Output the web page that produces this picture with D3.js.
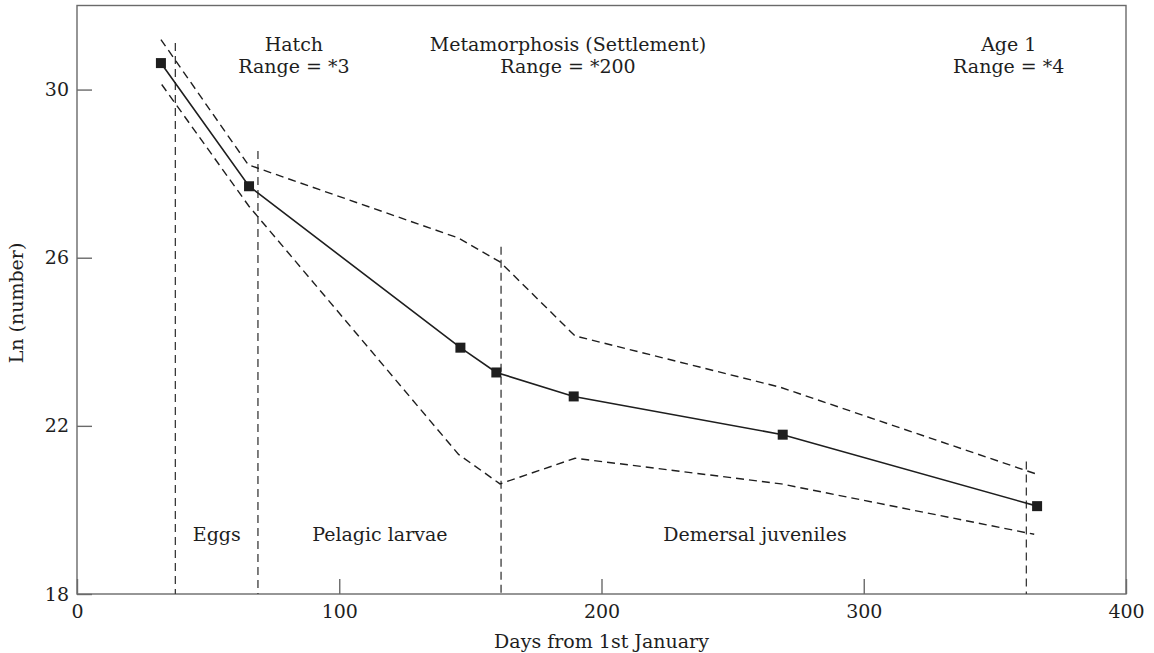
<!DOCTYPE html>
<html>
<head>
<meta charset="utf-8">
<script src="https://cdn.jsdelivr.net/npm/d3@7"></script>
<style>
  html, body { margin: 0; padding: 0; background: #fff; }
  svg { display: block; }
  text { font-family: "DejaVu Serif", "Liberation Serif", serif; fill: #1e1e1e; }
</style>
</head>
<body>
<svg id="chart" width="1154" height="653"></svg>
<script>
// ---- data ----
const days = [32, 65.6, 146.2, 159.9, 189.4, 269.1, 366.1];
const lnNumber = [30.63, 27.70, 23.86, 23.27, 22.70, 21.79, 20.09];

const upperDays = [32, 65.3, 145.4, 161.3, 189.9, 268.1, 366];
const upperValues = [31.19, 28.21, 26.47, 25.90, 24.14, 22.92, 20.85];

const lowerDays = [32.3, 65.5, 145.5, 161.3, 189.9, 268.5, 365];
const lowerValues = [30.12, 27.23, 21.32, 20.62, 21.23, 20.62, 19.42];

const boundaryDays = [37.5, 69, 161.7, 362];
const boundaryTops = [31.11, 28.54, 26.26, 21.15];

const stageLabels = ["Eggs", "Pelagic larvae", "Demersal juveniles"];
const stageDays = [53.3, 115.5, 258.5];

const eventTitles = ["Hatch", "Metamorphosis (Settlement)", "Age 1"];
const eventRanges = ["Range = *3", "Range = *200", "Range = *4"];
const eventDays = [82.7, 187.2, 355.3];

const xTicks = [0, 100, 200, 300, 400];
const yTicks = [18, 22, 26, 30];
const xTitle = "Days from 1st January";
const yTitle = "Ln (number)";

// ---- layout ----
const svg = d3.select("#chart");
const mLeft = 77, mRight = 1126, mTop = 5.5, mBottom = 594;
const x = d3.scaleLinear().domain([0, 400]).range([mLeft, mRight]);
const y = d3.scaleLinear().domain([18, 32]).range([mBottom, mTop]);
const axisColor = "#6a6a6a";
const fontSize = 19;

// frame
svg.append("rect")
  .attr("x", mLeft).attr("y", mTop)
  .attr("width", mRight - mLeft).attr("height", mBottom - mTop)
  .attr("fill", "none").attr("stroke", axisColor).attr("stroke-width", 1.4);

// x axis (inward ticks)
const xAxis = d3.axisBottom(x).tickValues(xTicks).tickSize(-15).tickPadding(11).tickFormat(d3.format("d"));
const gx = svg.append("g").attr("transform", `translate(0,${mBottom})`).call(xAxis);
gx.select(".domain").remove();
gx.selectAll(".tick line").attr("stroke", axisColor).attr("stroke-width", 1.4);
gx.selectAll(".tick text").attr("font-size", fontSize).attr("font-family", "DejaVu Serif").attr("fill", "#1e1e1e");

// y axis (inward ticks)
const yAxis = d3.axisLeft(y).tickValues(yTicks).tickSize(-15).tickPadding(8).tickFormat(d3.format("d"));
const gy = svg.append("g").attr("transform", `translate(${mLeft},0)`).call(yAxis);
gy.select(".domain").remove();
gy.selectAll(".tick line").attr("stroke", axisColor).attr("stroke-width", 1.4);
gy.selectAll(".tick text").attr("font-size", fontSize).attr("font-family", "DejaVu Serif").attr("fill", "#1e1e1e");

// axis titles
svg.append("text")
  .attr("x", x(200)).attr("y", 648)
  .attr("text-anchor", "middle").attr("font-size", fontSize)
  .text(xTitle);
svg.append("text")
  .attr("transform", `translate(23,303) rotate(-90)`)
  .attr("text-anchor", "middle").attr("font-size", fontSize)
  .text(yTitle);

// stage boundaries
svg.append("g").selectAll("line")
  .data(boundaryDays)
  .join("line")
  .attr("x1", d => x(d)).attr("x2", d => x(d))
  .attr("y1", (d, i) => y(boundaryTops[i])).attr("y2", y(18))
  .attr("stroke", "#3a3a3a").attr("stroke-width", 1.3)
  .attr("stroke-dasharray", "8,5");

// confidence lines
const line = d3.line().x(d => x(d[0])).y(d => y(d[1]));
const upper = upperDays.map((d, i) => [d, upperValues[i]]);
const lower = lowerDays.map((d, i) => [d, lowerValues[i]]);
const mid = days.map((d, i) => [d, lnNumber[i]]);

[upper, lower].forEach(pts => {
  svg.append("path").datum(pts)
    .attr("d", line).attr("fill", "none")
    .attr("stroke", "#1e1e1e").attr("stroke-width", 1.4)
    .attr("stroke-dasharray", "8,5");
});

svg.append("path").datum(mid)
  .attr("d", line).attr("fill", "none")
  .attr("stroke", "#1e1e1e").attr("stroke-width", 1.6);

// markers
const sz = 10;
svg.append("g").selectAll("rect")
  .data(mid)
  .join("rect")
  .attr("x", d => x(d[0]) - sz / 2).attr("y", d => y(d[1]) - sz / 2)
  .attr("width", sz).attr("height", sz)
  .attr("fill", "#1e1e1e");

// stage labels
svg.append("g").selectAll("text")
  .data(stageLabels)
  .join("text")
  .attr("x", (d, i) => x(stageDays[i])).attr("y", 541)
  .attr("text-anchor", "middle").attr("font-size", fontSize)
  .text(d => d);

// event annotations
const ev = svg.append("g");
ev.selectAll("text.title")
  .data(eventTitles)
  .join("text").attr("class", "title")
  .attr("x", (d, i) => x(eventDays[i])).attr("y", 51)
  .attr("text-anchor", "middle").attr("font-size", fontSize)
  .text(d => d);
ev.selectAll("text.range")
  .data(eventRanges)
  .join("text").attr("class", "range")
  .attr("x", (d, i) => x(eventDays[i])).attr("y", 73)
  .attr("text-anchor", "middle").attr("font-size", fontSize)
  .text(d => d);
</script>
</body>
</html>
